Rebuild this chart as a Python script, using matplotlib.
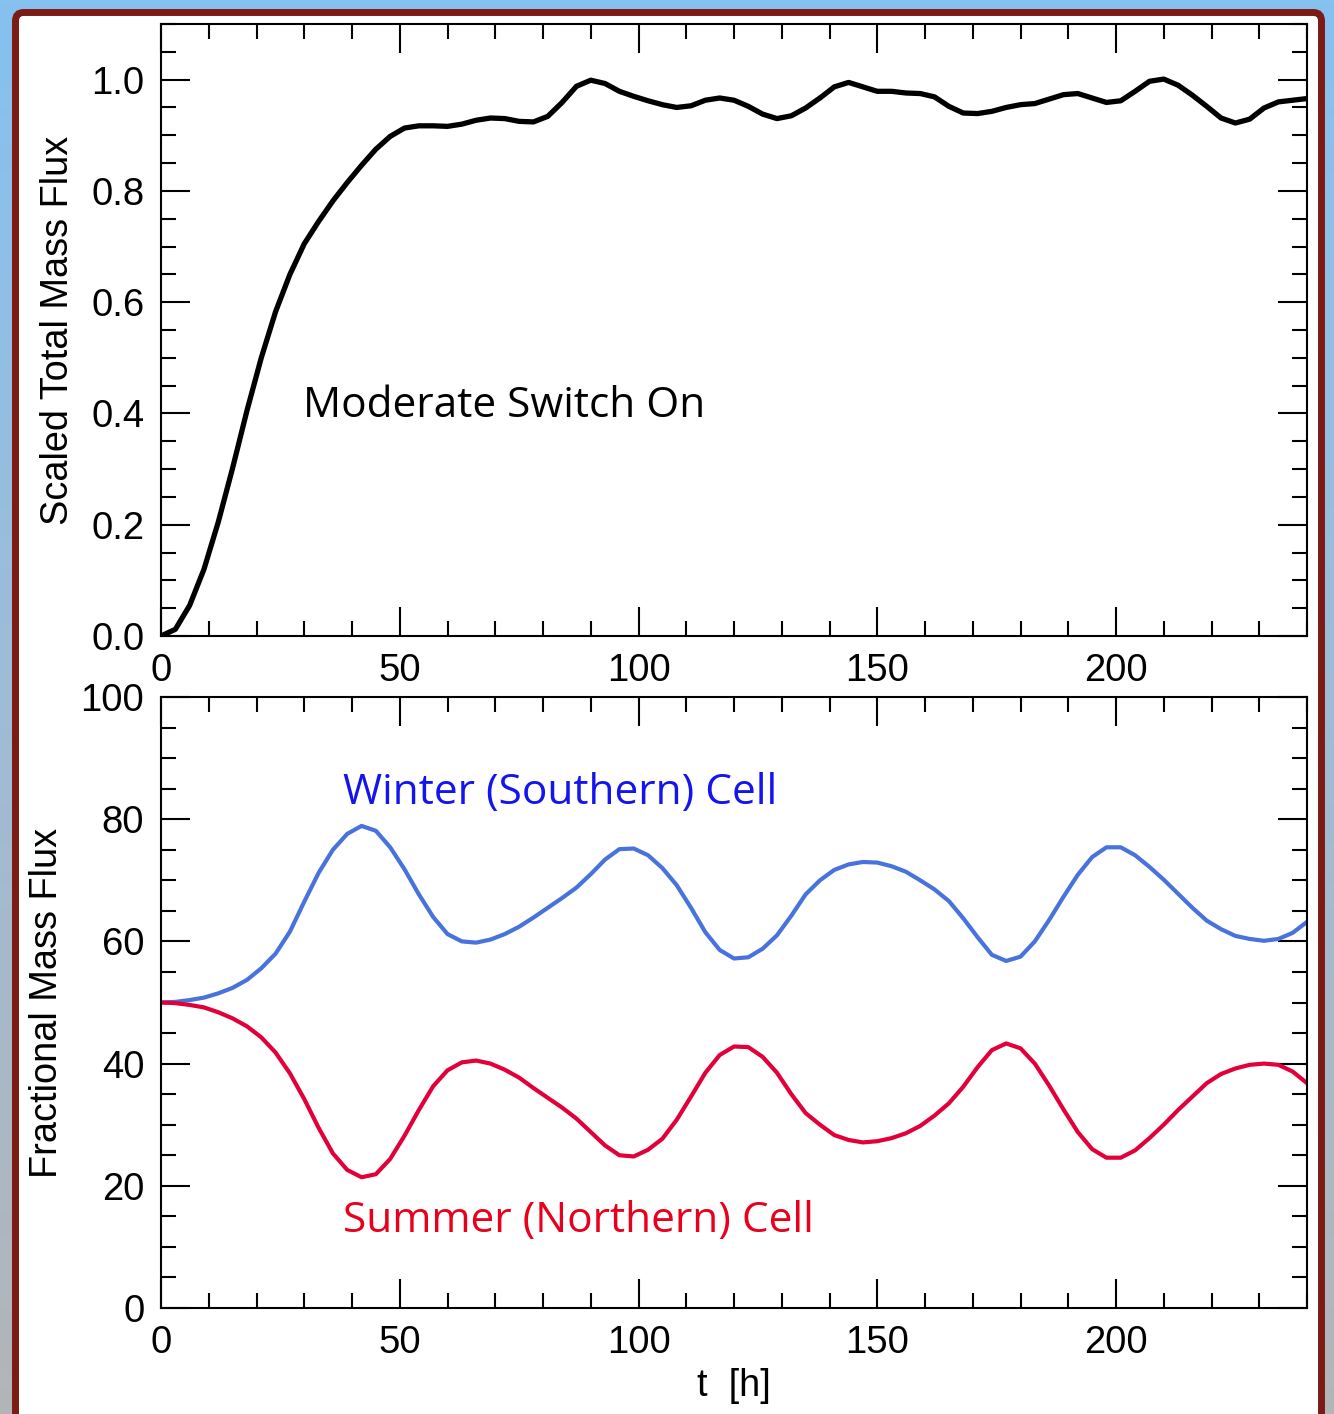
import numpy as np
import matplotlib
matplotlib.use("Agg")
import matplotlib.pyplot as plt
from matplotlib.colors import LinearSegmentedColormap
from matplotlib.patches import FancyBboxPatch
from matplotlib.ticker import MultipleLocator

# ---- data -------------------------------------------------------------
t_hours = np.arange(0, 241, 3)

total_flux = [
    0.000, 0.012, 0.055, 0.120, 0.205, 0.302, 0.405, 0.500, 0.583, 0.650,
    0.705, 0.745, 0.782, 0.815, 0.846, 0.875, 0.898, 0.913, 0.917, 0.917,
    0.916, 0.920, 0.927, 0.931, 0.930, 0.925, 0.924, 0.934, 0.959, 0.988,
    0.999, 0.993, 0.979, 0.970, 0.962, 0.955, 0.950, 0.953, 0.963, 0.967,
    0.963, 0.952, 0.938, 0.930, 0.935, 0.949, 0.967, 0.987, 0.995, 0.987,
    0.979, 0.979, 0.976, 0.975, 0.969, 0.952, 0.940, 0.939, 0.943, 0.950,
    0.955, 0.957, 0.965, 0.973, 0.975, 0.967, 0.959, 0.962, 0.979, 0.997,
    1.001, 0.990, 0.972, 0.952, 0.931, 0.922, 0.929, 0.949, 0.960, 0.963,
    0.966,
]

winter_cell = [
    50.0, 50.1, 50.4, 50.8, 51.5, 52.4, 53.7, 55.6, 58.0, 61.6,
    66.5, 71.2, 75.0, 77.6, 78.9, 78.1, 75.4, 71.8, 67.7, 64.0,
    61.2, 60.0, 59.8, 60.3, 61.2, 62.4, 63.9, 65.5, 67.1, 68.8,
    71.0, 73.4, 75.1, 75.2, 74.1, 72.0, 69.2, 65.5, 61.5, 58.6,
    57.2, 57.4, 58.8, 61.0, 64.2, 67.7, 70.0, 71.7, 72.6, 73.0,
    72.9, 72.3, 71.4, 70.0, 68.5, 66.6, 63.8, 60.7, 57.8, 56.8,
    57.5, 60.0, 63.5, 67.3, 70.9, 73.8, 75.4, 75.4, 74.1, 72.2,
    70.1, 67.8, 65.5, 63.4, 62.0, 60.9, 60.4, 60.1, 60.4, 61.4,
    63.2,
]

summer_cell = [
    50.0, 49.9, 49.6, 49.2, 48.4, 47.4, 46.1, 44.3, 41.8, 38.4,
    34.2, 29.5, 25.3, 22.6, 21.4, 21.9, 24.4, 28.2, 32.4, 36.3,
    38.9, 40.2, 40.5, 40.0, 39.0, 37.7, 36.0, 34.4, 32.8, 31.0,
    28.8, 26.6, 25.0, 24.8, 25.9, 27.7, 30.8, 34.6, 38.5, 41.4,
    42.8, 42.7, 41.1, 38.5, 35.0, 31.9, 30.0, 28.3, 27.5, 27.1,
    27.3, 27.8, 28.6, 29.8, 31.5, 33.5, 36.2, 39.4, 42.2, 43.3,
    42.5, 40.0, 36.4, 32.5, 28.8, 26.0, 24.6, 24.6, 25.8, 27.8,
    30.0, 32.4, 34.6, 36.8, 38.3, 39.2, 39.8, 40.0, 39.8, 38.7,
    36.8,
]

x_ticks = [0, 50, 100, 150, 200]
top_yticks = [0.0, 0.2, 0.4, 0.6, 0.8, 1.0]
bottom_yticks = [0, 20, 40, 60, 80, 100]

# ---- styling ----------------------------------------------------------
plt.rcParams["font.family"] = ["Liberation Sans", "DejaVu Sans"]
plt.rcParams["axes.linewidth"] = 1.5

W, H = 1334, 1414
fig = plt.figure(figsize=(W / 100, H / 100), dpi=100)

# slide background: light blue fading to grey
bg = fig.add_axes([0, 0, 1, 1], zorder=-10)
grad = np.linspace(0, 1, 256).reshape(-1, 1)
cmap = LinearSegmentedColormap.from_list("bg", ["#86c1f0", "#9fbcd6", "#b3b5b8"])
bg.imshow(grad, aspect="auto", cmap=cmap, extent=[0, 1, 0, 1], origin="upper")
bg.set_axis_off()

frame = FancyBboxPatch(
    (15.5 / W, -0.02), (1321.5 - 15.5) / W, 1 - 12.5 / H + 0.02,
    boxstyle="round,pad=0,rounding_size=0.006",
    transform=fig.transFigure, facecolor="white", edgecolor="#7c1a15",
    linewidth=5.0, zorder=-5,
)
fig.patches.append(frame)

ax_top = fig.add_axes([161 / W, 1 - 636 / H, 1146 / W, 612 / H])
ax_bot = fig.add_axes([161 / W, 1 - 1308 / H, 1146 / W, 611 / H])

tick_fs = 27.5
label_fs = 27.3
for ax in (ax_top, ax_bot):
    ax.set_xlim(0, 240)
    ax.set_xticks(x_ticks)
    ax.xaxis.set_minor_locator(MultipleLocator(10))
    ax.tick_params(which="both", direction="in", top=True, right=True,
                   width=1.5, labelsize=tick_fs, pad=12)
    ax.tick_params(which="major", length=21)
    ax.tick_params(which="minor", length=10.5)
    ax.patch.set_alpha(0)

ax_top.set_ylim(0, 1.1)
ax_top.set_yticks(top_yticks)
ax_top.set_yticklabels([f"{v:.1f}" for v in top_yticks])
ax_top.yaxis.set_minor_locator(MultipleLocator(0.05))

ax_bot.set_ylim(0, 100)
ax_bot.set_yticks(bottom_yticks)
ax_bot.yaxis.set_minor_locator(MultipleLocator(5))

ax_top.plot(t_hours, total_flux, color="black", lw=3.8)
ax_bot.plot(t_hours, winter_cell, color="#4872dc", lw=3.0)
ax_bot.plot(t_hours, summer_cell, color="#e2003a", lw=3.0)

ax_top.set_ylabel("Scaled Total Mass Flux", fontsize=label_fs, labelpad=11)
ax_bot.set_ylabel("Fractional Mass Flux", fontsize=label_fs, labelpad=11)
ax_bot.set_xlabel("t  [h]", fontsize=label_fs, labelpad=5)

ann_font = ["Open Sans", "DejaVu Sans"]
ann_fs = 30.5
ax_top.text(29.7, 0.393, "Moderate Switch On", fontsize=ann_fs, family=ann_font,
            color="black", ha="left", va="baseline")
ax_bot.text(38.1, 82.5, "Winter (Southern) Cell", fontsize=ann_fs, family=ann_font,
            color="#1414ee", ha="left", va="baseline")
ax_bot.text(38.1, 12.4, "Summer (Northern) Cell", fontsize=ann_fs, family=ann_font,
            color="#e8001c", ha="left", va="baseline")

fig.savefig("out.png", dpi=100)
